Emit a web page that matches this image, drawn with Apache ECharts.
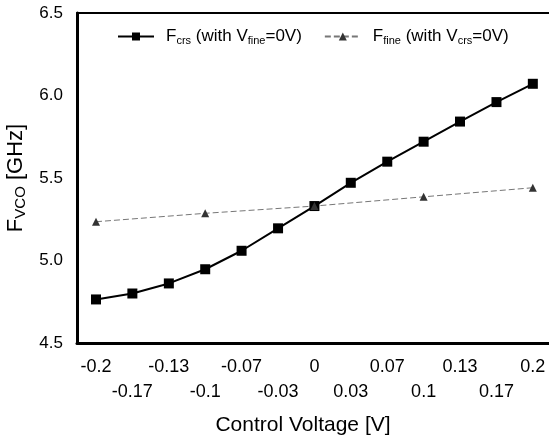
<!DOCTYPE html>
<html>
<head>
<meta charset="utf-8">
<script src="https://cdn.jsdelivr.net/npm/echarts@6/dist/echarts.min.js"></script>
<style>
  html, body { margin: 0; padding: 0; background: #fff; }
  #chart { width: 549px; height: 438px; }
</style>
</head>
<body>
<div id="chart"></div>
<script>
// control voltage points (V)
var xCrs = [-0.2, -0.1667, -0.1333, -0.1, -0.0667, -0.0333, 0, 0.0333, 0.0667, 0.1, 0.1333, 0.1667, 0.2];
var fCrs = [4.764, 4.8, 4.861, 4.947, 5.059, 5.195, 5.33, 5.471, 5.599, 5.72, 5.842, 5.96, 6.071];
var xFine = [-0.2, -0.1, 0, 0.1, 0.2];
var fFine = [5.235, 5.286, 5.33, 5.386, 5.441];
// x tick labels: upper row and lower (staggered) row
var xTopVals = [-0.2, -0.1333, -0.0667, 0, 0.0667, 0.1333, 0.2];
var xTopText = ["-0.2", "-0.13", "-0.07", "0", "0.07", "0.13", "0.2"];
var xLowVals = [-0.1667, -0.1, -0.0333, 0.0333, 0.1, 0.1667];
var xLowText = ["-0.17", "-0.1", "-0.03", "0.03", "0.1", "0.17"];

function pairs(xs, ys) {
  return xs.map(function (x, i) { return [x, ys[i]]; });
}

function lookup(vals, texts) {
  return function (v) {
    for (var i = 0; i < vals.length; i++) {
      if (Math.abs(vals[i] - v) < 1e-6) return texts[i];
    }
    return "";
  };
}

var font = "Liberation Sans, Arial, sans-serif";
var xMin = -0.2174, xMax = 0.2148;
var chart = echarts.init(document.getElementById("chart"));

var labelStyle = { fontFamily: font, fontSize: 18, color: "#000" };

var option = {
  backgroundColor: "#fff",
  animation: false,
  grid: { left: 77, top: 13, right: 0, bottom: 95, outerBoundsMode: "none" },
  legend: {
    top: 23, left: 112,
    itemWidth: 36, itemHeight: 10, itemGap: 22,
    textStyle: {
      fontFamily: font, fontSize: 17, color: "#000",
      padding: [0, 0, 0, 7],
      rich: {
        s: { fontFamily: font, fontSize: 11, color: "#000", padding: [9, 0, 0, 0] }
      }
    },
    formatter: function (name) {
      if (name === "crs") return "F{s|crs} (with V{s|fine}=0V)";
      return "F{s|fine} (with V{s|crs}=0V)";
    },
    data: ["crs", "fine"]
  },
  xAxis: [
    {
      type: "value",
      position: "bottom",
      min: xMin, max: xMax,
      name: "Control Voltage [V]",
      nameLocation: "middle",
      nameGap: 72,
      nameTextStyle: { fontFamily: font, fontSize: 21, color: "#000", padding: [0, 20, 0, 0] },
      axisLine: { onZero: false, lineStyle: { color: "#000", width: 3 } },
      axisTick: { show: false },
      splitLine: { show: false },
      axisLabel: Object.assign({
        customValues: xTopVals,
        showMinLabel: true, showMaxLabel: true,
        margin: 15,
        formatter: lookup(xTopVals, xTopText)
      }, labelStyle)
    },
    {
      type: "value",
      position: "bottom",
      offset: 25,
      min: xMin, max: xMax,
      axisLine: { show: false, onZero: false },
      axisTick: { show: false },
      splitLine: { show: false },
      axisLabel: Object.assign({
        customValues: xLowVals,
        showMinLabel: true, showMaxLabel: true,
        margin: 15,
        formatter: lookup(xLowVals, xLowText)
      }, labelStyle)
    },
    {
      // top frame line only
      type: "value",
      position: "top",
      min: xMin, max: xMax,
      axisLine: { show: true, onZero: false, lineStyle: { color: "#000", width: 2 } },
      axisTick: { show: false },
      axisLabel: { show: false },
      splitLine: { show: false }
    }
  ],
  yAxis: {
    type: "value",
    min: 4.5, max: 6.5, interval: 0.5,
    name: "F{s|VCO} [GHz]",
    nameLocation: "middle",
    nameGap: 49,
    nameRotate: 90,
    nameTextStyle: {
      fontFamily: font, fontSize: 22, color: "#000",
      rich: { s: { fontFamily: font, fontSize: 15, color: "#000", padding: [10, 0, 0, 0] } }
    },
    axisLine: { show: true, onZero: false, lineStyle: { color: "#000", width: 3 } },
    axisTick: { show: false },
    splitLine: { show: false },
    axisLabel: {
      margin: 14,
      fontFamily: font, fontSize: 17, color: "#000",
      formatter: function (v) { return v.toFixed(1); }
    }
  },
  series: [
    {
      name: "crs",
      type: "line",
      xAxisIndex: 0,
      data: pairs(xCrs, fCrs),
      symbol: "rect",
      symbolSize: 10,
      lineStyle: { color: "#000", width: 2 },
      itemStyle: { color: "#000" }
    },
    {
      name: "fine",
      type: "line",
      xAxisIndex: 0,
      data: pairs(xFine, fFine),
      symbol: "triangle",
      symbolSize: 8,
      lineStyle: { color: "#777", width: 1, type: [6, 3] },
      itemStyle: { color: "#333" }
    }
  ]
};

chart.setOption(option);
</script>
</body>
</html>
